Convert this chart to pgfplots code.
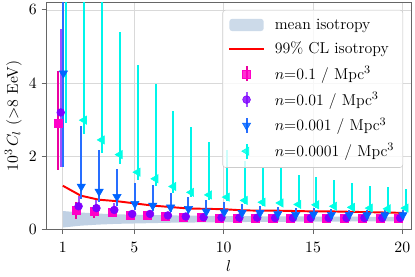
\documentclass[border=0pt]{standalone}
\usepackage{pgfplots}
\pgfplotsset{compat=1.18}
\usepackage{pgfplotstable}
\usepgfplotslibrary{fillbetween}

\definecolor{cpink}{RGB}{255,0,200}
\definecolor{cpurple}{RGB}{128,0,255}
\definecolor{cblue}{RGB}{0,100,255}
\definecolor{ccyan}{RGB}{0,255,230}
\definecolor{cpinkbar}{RGB}{235,0,160}
\definecolor{cpurplebar}{RGB}{160,80,255}
\definecolor{cbluebar}{RGB}{40,110,255}
\definecolor{ccyanbar}{RGB}{0,245,235}
\definecolor{cband}{RGB}{192,209,228}

\pgfplotstableread{
l lo hi
1 0.06 0.51
2 0.11 0.47
3 0.14 0.44
4 0.16 0.42
5 0.17 0.41
6 0.18 0.40
7 0.19 0.39
8 0.195 0.385
9 0.20 0.38
10 0.205 0.375
11 0.21 0.37
12 0.212 0.368
13 0.215 0.365
14 0.218 0.362
15 0.22 0.36
16 0.222 0.358
17 0.224 0.356
18 0.226 0.354
19 0.228 0.352
20 0.23 0.35
}\band

\pgfplotstableread{
l y
1 1.20
2 0.93
3 0.82
4 0.78
5 0.72
6 0.66
7 0.62
8 0.58
9 0.57
10 0.56
11 0.53
12 0.52
13 0.52
14 0.51
15 0.50
16 0.50
17 0.49
18 0.48
19 0.47
20 0.46
}\redline

\pgfplotstableread{
l y lo hi
1 2.91 1.63 4.33
2 0.52 0.30 0.75
3 0.50 0.32 0.68
4 0.48 0.34 0.63
5 0.39 0.30 0.50
6 0.39 0.30 0.48
7 0.37 0.30 0.45
8 0.34 0.28 0.42
9 0.33 0.27 0.40
10 0.32 0.27 0.38
11 0.32 0.27 0.38
12 0.32 0.27 0.37
13 0.31 0.27 0.36
14 0.31 0.27 0.36
15 0.31 0.27 0.35
16 0.30 0.26 0.35
17 0.30 0.26 0.35
18 0.30 0.26 0.34
19 0.30 0.26 0.34
20 0.30 0.26 0.34
}\pinkdata

\pgfplotstableread{
l y lo hi
1 3.20 1.70 5.49
2 0.64 0.44 0.92
3 0.59 0.42 0.80
4 0.54 0.40 0.72
5 0.43 0.34 0.55
6 0.43 0.34 0.54
7 0.39 0.32 0.48
8 0.36 0.30 0.44
9 0.34 0.29 0.41
10 0.33 0.28 0.40
11 0.33 0.28 0.39
12 0.33 0.28 0.39
13 0.32 0.28 0.38
14 0.32 0.28 0.38
15 0.32 0.28 0.37
16 0.32 0.28 0.37
17 0.32 0.28 0.37
18 0.32 0.28 0.36
19 0.32 0.28 0.36
20 0.32 0.28 0.36
}\purpledata

\pgfplotstableread{
l y lo hi
1 4.27 1.70 8.00
2 1.18 0.85 2.82
3 1.04 0.75 2.17
4 0.90 0.65 1.67
5 0.71 0.55 1.27
6 0.66 0.52 1.23
7 0.61 0.48 1.01
8 0.57 0.45 0.89
9 0.50 0.40 0.80
10 0.48 0.39 0.77
11 0.46 0.38 0.71
12 0.46 0.38 0.64
13 0.43 0.36 0.61
14 0.41 0.35 0.58
15 0.42 0.35 0.58
16 0.41 0.35 0.56
17 0.41 0.35 0.55
18 0.40 0.34 0.55
19 0.40 0.34 0.54
20 0.40 0.34 0.53
}\bluedata

\pgfplotstableread{
l y lo hi
1 7.50 2.90 12.0
2 2.99 2.60 9.00
3 2.45 2.10 8.00
4 2.05 1.80 5.40
5 1.57 1.35 4.49
6 1.39 1.20 3.97
7 1.18 1.00 3.24
8 1.02 0.88 2.79
9 0.95 0.82 2.40
10 0.89 0.78 2.18
11 0.80 0.70 1.88
12 0.75 0.66 1.70
13 0.73 0.64 1.72
14 0.69 0.61 1.50
15 0.68 0.60 1.43
16 0.64 0.57 1.37
17 0.61 0.55 1.27
18 0.59 0.53 1.20
19 0.57 0.52 1.16
20 0.59 0.53 1.11
}\cyandata

\pgfplotsset{
  errlegend/.style={legend image code/.code={
    \draw[draw=#1, line width=1.35pt] (0.42cm,-0.18cm) -- (0.42cm,0.18cm);
    \draw[##1, only marks] plot coordinates {(0.42cm,0cm)};
    \path (0cm,0cm) (0.84cm,0cm);
  }},
  errstyle/.style={error bars/.cd, y dir=both, y explicit, error mark=none,
    error bar style={draw=#1, line width=1.35pt}, /pgfplots/.cd},
}

\begin{document}
\begin{tikzpicture}
\begin{axis}[
  scale only axis,
  width=254pt, height=158pt,
  xmin=0.06, xmax=20.5, ymin=0, ymax=6.2,
  xtick={1,5,10,15,20}, ytick={0,2,4,6},
  xtick pos=bottom, ytick pos=left,
  tick align=outside, major tick length=3pt,
  grid=major, major grid style={gray!30, line width=0.5pt},
  axis line style={black!60}, tick style={black!60, line width=0.6pt},
  tick label style={font=\fontsize{10.8}{12}\selectfont},
  xticklabel style={yshift=-2pt},
  xlabel={$l$}, ylabel={$10^3\,C_l$ ($>$8 EeV)},
  label style={font=\fontsize{10.8}{12}\selectfont},
  xlabel style={yshift=1pt},
  ylabel style={yshift=-2pt},
  legend cell align=left,
  legend style={at={(0.978,0.968)}, anchor=north east, draw=gray!40, rounded corners=2pt,
    fill=white, fill opacity=0.8, text opacity=1, draw opacity=1, row sep=3.3pt, inner xsep=4pt, inner ysep=4pt,
    font=\fontsize{11}{12.5}\selectfont,
    /tikz/every odd column/.append style={column sep=5pt}},
]
\addplot[name path=bhi, draw=none, forget plot] table[x=l,y=hi]{\band};
\addplot[name path=blo, draw=none, forget plot] table[x=l,y=lo]{\band};
\addplot[fill=cband, draw=none, legend image code/.code={\fill[cband] (0cm,-0.15cm) rectangle (0.84cm,0.15cm);}] fill between[of=bhi and blo];
\addlegendentry{mean isotropy}

\addplot[red, line width=1.35pt, legend image code/.code={\draw[draw=red, line width=1.35pt] (0cm,0cm) -- (0.84cm,0cm);}] table[x=l,y=y]{\redline};
\addlegendentry{99\% CL isotropy}

\addplot[cpink, only marks, mark=square*, mark size=2.8pt, errlegend=cpinkbar, errstyle=cpinkbar]
  table[x expr=\thisrow{l}-0.25, y=y, y error plus expr=\thisrow{hi}-\thisrow{y}, y error minus expr=\thisrow{y}-\thisrow{lo}]{\pinkdata};
\addlegendentry{$n$=0.1 / Mpc$^3$}

\addplot[cpurple, only marks, mark=*, mark size=2.7pt, errlegend=cpurplebar, errstyle=cpurplebar]
  table[x expr=\thisrow{l}-0.12, y=y, y error plus expr=\thisrow{hi}-\thisrow{y}, y error minus expr=\thisrow{y}-\thisrow{lo}]{\purpledata};
\addlegendentry{$n$=0.01 / Mpc$^3$}

\addplot[cblue, only marks, mark=triangle*, mark options={rotate=180}, mark size=3.3pt, errlegend=cbluebar, errstyle=cbluebar]
  table[x expr=\thisrow{l}+0.03, y=y, y error plus expr=\thisrow{hi}-\thisrow{y}, y error minus expr=\thisrow{y}-\thisrow{lo}]{\bluedata};
\addlegendentry{$n$=0.001 / Mpc$^3$}

\addplot[ccyan, only marks, mark=triangle*, mark options={rotate=90}, mark size=3.3pt, errlegend=ccyanbar, errstyle=ccyanbar]
  table[x expr=\thisrow{l}+0.19, y=y, y error plus expr=\thisrow{hi}-\thisrow{y}, y error minus expr=\thisrow{y}-\thisrow{lo}]{\cyandata};
\addlegendentry{$n$=0.0001 / Mpc$^3$}
\end{axis}
\end{tikzpicture}
\end{document}
